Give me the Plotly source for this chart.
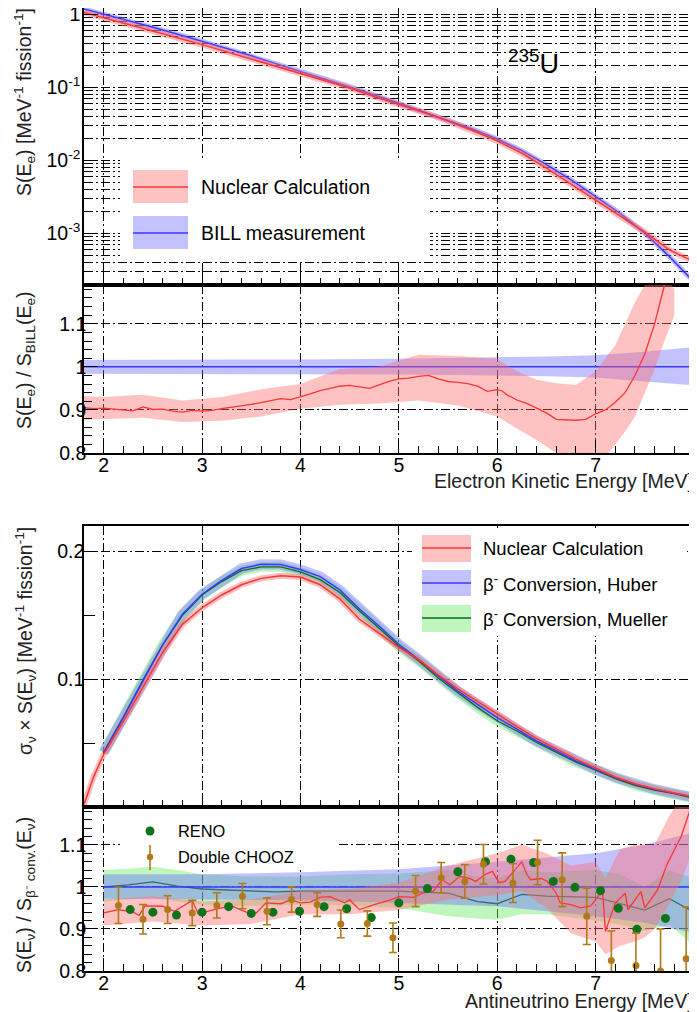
import plotly.graph_objects as go

# ---------------- data: top panel (electron spectrum) ----------------
E_TOP = [1.8, 2.0, 2.25, 2.5, 2.75, 3.0, 3.25, 3.5, 3.75, 4.0, 4.25, 4.5, 4.75, 5.0,
         5.25, 5.5, 5.75, 6.0, 6.25, 6.5, 6.75, 7.0, 7.25, 7.5, 7.75, 8.0]
BILL_TOP = [1.175, 1.0, 0.813, 0.661, 0.531, 0.427, 0.339, 0.269, 0.211, 0.166, 0.130, 0.102,
            0.0785, 0.0603, 0.0462, 0.0355, 0.0266, 0.0195, 0.0135, 0.0087, 0.00537, 0.00316,
            0.00186, 0.00100, 0.000479, 0.000214]
NUC_TOP = [1.06, 0.90, 0.733, 0.596, 0.477, 0.383, 0.305, 0.245, 0.195, 0.155, 0.123, 0.0977,
           0.0746, 0.0586, 0.0453, 0.0343, 0.0255, 0.0184, 0.01245, 0.0078, 0.0047, 0.00282,
           0.00174, 0.00103, 0.000589, 0.000407]

# ---------------- data: electron ratio panel ----------------
E_RT = [1.8, 1.9, 2.0, 2.1, 2.2, 2.3, 2.4, 2.5, 2.6, 2.7, 2.8, 2.9, 3.0, 3.1, 3.2, 3.3, 3.4, 3.5,
        3.6, 3.7, 3.8, 3.9, 4.0, 4.1, 4.2, 4.3, 4.4, 4.5, 4.6, 4.7, 4.8, 4.9, 5.0, 5.1, 5.2, 5.3,
        5.4, 5.5, 5.6, 5.7, 5.8, 5.9, 6.0, 6.05, 6.1, 6.2, 6.3, 6.4, 6.5, 6.6, 6.7, 6.8, 6.9,
        7.0, 7.1, 7.2, 7.3, 7.4, 7.5, 7.6, 7.7, 7.8]
R_RT = [0.905, 0.903, 0.904, 0.902, 0.899, 0.898, 0.907, 0.901, 0.902, 0.897, 0.895, 0.899,
        0.897, 0.899, 0.903, 0.906, 0.910, 0.913, 0.917, 0.922, 0.926, 0.924, 0.930, 0.937,
        0.945, 0.950, 0.955, 0.957, 0.953, 0.950, 0.958, 0.966, 0.972, 0.974, 0.978, 0.980,
        0.972, 0.966, 0.964, 0.961, 0.955, 0.943, 0.947, 0.944, 0.935, 0.923, 0.915, 0.904,
        0.893, 0.878, 0.877, 0.876, 0.878, 0.891, 0.900, 0.918, 0.940, 0.980, 1.030, 1.100,
        1.190, 1.300]
E_RTB = [1.8, 2.0, 2.4, 2.8, 3.2, 3.6, 4.0, 4.4, 4.8, 5.2, 5.6, 6.0, 6.2, 6.4, 6.6, 6.8, 7.0,
         7.1, 7.2, 7.3, 7.4, 7.5, 7.6, 7.7, 7.8]
R_RT_LO = [0.877, 0.878, 0.882, 0.872, 0.875, 0.885, 0.903, 0.912, 0.915, 0.922, 0.91, 0.885,
           0.857, 0.83, 0.80, 0.78, 0.78, 0.79, 0.82, 0.85, 0.885, 0.94, 0.995, 1.06, 1.12]
R_RT_HI = [0.932, 0.93, 0.935, 0.922, 0.93, 0.948, 0.96, 0.995, 1.0, 1.028, 1.025, 1.018,
           0.99, 0.97, 0.962, 0.958, 0.99, 1.02, 1.05, 1.10, 1.15, 1.19, 1.22, 1.22, 1.18]
E_BILLB = [1.8, 3.0, 4.0, 5.0, 6.0, 6.5, 7.0, 7.5, 8.0]
BILL_LO = [0.984, 0.984, 0.983, 0.982, 0.98, 0.978, 0.975, 0.966, 0.957]
BILL_HI = [1.016, 1.016, 1.017, 1.019, 1.022, 1.024, 1.027, 1.035, 1.046]

# ---------------- data: antineutrino spectrum ----------------
E_NUC = [1.8, 1.9, 2.0, 2.2, 2.4, 2.6, 2.8, 3.0, 3.2, 3.4, 3.6, 3.8, 4.0, 4.2, 4.4, 4.6, 4.8,
         5.0, 5.2, 5.4, 5.6, 5.8, 6.0, 6.2, 6.4, 6.6, 6.8, 7.0, 7.2, 7.4, 7.6, 7.8, 8.0]
NUC_SPEC = [0.002, 0.024, 0.0413, 0.067, 0.094, 0.121, 0.143, 0.156, 0.166, 0.174, 0.179, 0.181,
            0.180, 0.174, 0.163, 0.147, 0.136, 0.125, 0.1155, 0.1035, 0.0925, 0.0825, 0.0725,
            0.063, 0.0535, 0.0455, 0.0375, 0.0305, 0.0235, 0.0182, 0.0142, 0.011, 0.0078]
E_CONV = [2.0, 2.2, 2.4, 2.6, 2.8, 3.0, 3.2, 3.4, 3.6, 3.8, 4.0, 4.2, 4.4, 4.6, 4.8, 5.0, 5.2,
          5.4, 5.6, 5.8, 6.0, 6.2, 6.4, 6.6, 6.8, 7.0, 7.2, 7.4, 7.6, 7.8, 8.0]
HUBER_SPEC = [0.0426, 0.070, 0.0987, 0.127, 0.151, 0.1666, 0.1775, 0.1867, 0.190, 0.1898, 0.186,
              0.1804, 0.170, 0.155, 0.1417, 0.1274, 0.1157, 0.1026, 0.0908, 0.0804, 0.070,
              0.0609, 0.0517, 0.0439, 0.036, 0.0295, 0.023, 0.0178, 0.0139, 0.0107, 0.0074]
MUELLER_SPEC = [0.043, 0.0705, 0.0995, 0.127, 0.150, 0.166, 0.1765, 0.185, 0.188, 0.188, 0.184,
                0.178, 0.168, 0.1535, 0.140, 0.126, 0.1145, 0.101, 0.0895, 0.078, 0.0675,
                0.0595, 0.0505, 0.043, 0.0352, 0.0288, 0.0223, 0.0170, 0.0132, 0.0104, 0.0069]

# ---------------- data: antineutrino ratio panel ----------------
E_BR = [2.0, 2.15, 2.3, 2.36, 2.42, 2.6, 2.72, 2.9, 2.96, 3.15, 3.3, 3.45, 3.55, 3.65, 3.8, 3.9,
        4.0, 4.1, 4.2, 4.3, 4.45, 4.5, 4.6, 4.75, 4.9, 5.0, 5.15, 5.24, 5.35, 5.44, 5.52, 5.62,
        5.72, 5.78, 5.88, 5.95, 6.02, 6.08, 6.18, 6.25, 6.3, 6.34, 6.45, 6.51, 6.6, 6.64, 6.75,
        6.85, 6.95, 7.0, 7.07, 7.1, 7.2, 7.3, 7.33, 7.46, 7.5, 7.63, 7.73, 7.87, 7.97, 8.0]
R_BR = [0.938, 0.946, 0.94, 0.932, 0.955, 0.954, 0.942, 0.968, 0.936, 0.948, 0.955, 0.94, 0.938,
        0.962, 0.96, 0.969, 0.962, 0.964, 0.975, 0.977, 0.962, 0.969, 0.946, 0.958, 0.968,
        0.977, 0.975, 0.985, 0.99, 1.017, 1.005, 1.025, 1.02, 1.013, 1.03, 1.037, 1.01, 1.013,
        1.04, 1.06, 1.03, 1.017, 1.02, 1.013, 0.985, 0.962, 0.958, 0.95, 0.955, 0.969, 0.993,
        0.894, 0.962, 0.985, 0.946, 0.989, 0.95, 0.993, 1.056, 1.12, 1.19, 1.22]
E_BRB = [2.0, 2.5, 3.0, 3.5, 4.0, 4.5, 5.0, 5.5, 6.0, 6.25, 6.5, 6.75, 7.0, 7.1, 7.25, 7.4, 7.5,
         7.6, 7.75, 7.9, 8.0]
R_BR_LO = [0.908, 0.918, 0.908, 0.912, 0.935, 0.935, 0.945, 0.97, 0.98, 0.99, 0.95, 0.89, 0.87,
           0.84, 0.86, 0.87, 0.88, 0.9, 0.96, 1.03, 1.1]
R_BR_HI = [0.97, 0.978, 0.965, 0.97, 0.99, 0.995, 1.01, 1.05, 1.08, 1.1, 1.08, 1.05, 1.06, 1.02,
           1.09, 1.1, 1.1, 1.1, 1.17, 1.22, 1.3]
E_HB = [2.0, 3.0, 4.0, 5.0, 6.0, 7.0, 7.5, 8.0]
HUBER_LO = [0.972, 0.97, 0.968, 0.962, 0.954, 0.93, 0.915, 0.89]
HUBER_HI = [1.03, 1.03, 1.035, 1.042, 1.06, 1.08, 1.1, 1.13]
E_MB = [2.0, 2.25, 2.5, 2.75, 3.0, 3.25, 3.5, 3.75, 4.0, 4.5, 5.0, 5.5, 5.8, 6.0, 6.25, 6.5, 7.0,
        7.25, 7.5, 7.75, 8.0]
MUELLER_R = [1.0, 1.005, 1.012, 1.002, 0.995, 0.993, 0.99, 0.988, 0.99, 0.99, 0.99, 0.985, 0.965,
             0.96, 0.982, 0.978, 0.975, 0.96, 0.945, 0.972, 0.94]
MUELLER_LO = [0.965, 0.97, 0.975, 0.965, 0.958, 0.955, 0.955, 0.955, 0.958, 0.955, 0.95, 0.93,
              0.925, 0.922, 0.935, 0.935, 0.92, 0.91, 0.895, 0.91, 0.86]
MUELLER_HI = [1.04, 1.043, 1.048, 1.04, 1.03, 1.028, 1.025, 1.025, 1.025, 1.03, 1.032, 1.04,
              1.025, 1.02, 1.04, 1.035, 1.04, 1.03, 1.0, 1.04, 1.02]
E_UNITY = [2.0, 8.0]
UNITY = [1.0, 1.0]
E_UNITY_E = [1.8, 8.0]

RENO_E = [2.27, 2.5, 2.74, 3.0, 3.27, 3.5, 3.72, 3.99, 4.24, 4.47, 4.72, 5.0, 5.29, 5.6, 5.88,
          6.14, 6.37, 6.57, 6.79, 7.05, 7.23, 7.42, 7.71]
RENO_R = [0.946, 0.94, 0.933, 0.94, 0.953, 0.937, 0.94, 0.942, 0.953, 0.948, 0.927, 0.962,
          0.996, 1.036, 1.06, 1.066, 1.058, 1.013, 0.999, 0.991, 0.949, 0.899, 0.925]
DC_E = [2.15, 2.4, 2.65, 2.9, 3.15, 3.41, 3.66, 3.91, 4.17, 4.41, 4.68, 4.94, 5.17, 5.43, 5.67,
        5.86, 6.16, 6.41, 6.66, 6.91, 7.16, 7.41, 7.66, 7.92]
DC_R = [0.956, 0.923, 0.946, 0.938, 0.956, 0.978, 0.942, 0.97, 0.958, 0.912, 0.913, 0.879, 0.99,
        1.022, 1.013, 1.054, 1.009, 1.058, 1.017, 0.93, 0.825, 0.813, 0.80, 0.829]
DC_ERR = [0.043, 0.035, 0.033, 0.03, 0.03, 0.03, 0.032, 0.03, 0.028, 0.033, 0.03, 0.035, 0.037,
          0.036, 0.04, 0.047, 0.046, 0.053, 0.064, 0.067, 0.07, 0.077, 0.1, 0.123]

# ---------------- style ----------------
FONT = "Liberation Sans, Arial, Helvetica, sans-serif"
RED_LINE = "#ff3535"
RED_FILL = "rgba(255,110,110,0.42)"
BLUE_LINE = "#3838ff"
BLUE_FILL = "rgba(110,110,255,0.42)"
GREEN_LINE = "#0a6e0a"
GREEN_FILL = "rgba(110,235,110,0.45)"
RENO_COL = "#0b741b"
DC_COL = "#b07a1a"
GRIDDASH = "9px,3px,2px,3px"
TICK_SIZE = 19.5

# page body has an 8px default margin: figure is sized to the remaining window
FIG_W, FIG_H = 689, 1004
M_L, M_R, M_T, M_B = 76, 3, 0, 41
PLOT_H = FIG_H - M_T - M_B


def py(y_abs):
    """absolute window pixel row -> paper y fraction"""
    return (FIG_H + 8 - M_B - y_abs) / PLOT_H


def px(x_abs):
    return (x_abs - 8 - M_L) / (FIG_W - M_L - M_R)


fig = go.Figure()


def band(x, lo, hi, color, xa, ya):
    fig.add_trace(go.Scatter(x=list(x) + list(x)[::-1], y=list(hi) + list(lo)[::-1],
                             fill="toself", fillcolor=color, mode="lines",
                             line=dict(width=0), hoverinfo="skip", xaxis=xa, yaxis=ya))


def line(x, y, color, width, xa, ya):
    fig.add_trace(go.Scatter(x=x, y=y, mode="lines", line=dict(color=color, width=width),
                             xaxis=xa, yaxis=ya))


# top panel
line(E_TOP, BILL_TOP, "rgba(110,110,255,0.45)", 5, "x", "y")
line(E_TOP, BILL_TOP, BLUE_LINE, 1.5, "x", "y")
line(E_TOP, NUC_TOP, "rgba(255,110,110,0.45)", 6, "x", "y")
line(E_TOP, NUC_TOP, RED_LINE, 1.5, "x", "y")

# electron ratio
band(E_BILLB, BILL_LO, BILL_HI, BLUE_FILL, "x2", "y2")
line(E_UNITY_E, UNITY, BLUE_LINE, 1.5, "x2", "y2")
band(E_RTB, R_RT_LO, R_RT_HI, RED_FILL, "x2", "y2")
line(E_RT, R_RT, RED_LINE, 1.3, "x2", "y2")

# antineutrino spectrum
line(E_CONV, MUELLER_SPEC, "rgba(110,235,110,0.45)", 10, "x3", "y3")
line(E_CONV, HUBER_SPEC, "rgba(110,110,255,0.42)", 10, "x3", "y3")
line(E_NUC, NUC_SPEC, "rgba(255,110,110,0.45)", 6, "x3", "y3")
line(E_CONV, MUELLER_SPEC, GREEN_LINE, 1.3, "x3", "y3")
line(E_CONV, HUBER_SPEC, BLUE_LINE, 1.5, "x3", "y3")
line(E_NUC, NUC_SPEC, RED_LINE, 1.5, "x3", "y3")

# antineutrino ratio
band(E_MB, MUELLER_LO, MUELLER_HI, GREEN_FILL, "x4", "y4")
line(E_MB, MUELLER_R, GREEN_LINE, 1.3, "x4", "y4")
band(E_HB, HUBER_LO, HUBER_HI, BLUE_FILL, "x4", "y4")
line(E_UNITY, UNITY, BLUE_LINE, 1.5, "x4", "y4")
band(E_BRB, R_BR_LO, R_BR_HI, RED_FILL, "x4", "y4")
line(E_BR, R_BR, RED_LINE, 1.3, "x4", "y4")
fig.add_trace(go.Scatter(x=RENO_E, y=RENO_R, mode="markers",
                         marker=dict(color=RENO_COL, size=9, line=dict(width=0)),
                         xaxis="x4", yaxis="y4"))
fig.add_trace(go.Scatter(x=DC_E, y=DC_R, mode="markers",
                         marker=dict(color=DC_COL, size=7, line=dict(width=0)),
                         error_y=dict(type="data", array=DC_ERR, color=DC_COL, thickness=1.6,
                                      width=4),
                         xaxis="x4", yaxis="y4"))

# ---------------- axes ----------------
D_TOP = [py(285), 1.0]
D_RT = [py(453), py(285)]
D_SP = [py(807), py(526)]
D_BR = [0.0, py(807)]


def xaxis(anchor, labels):
    return dict(domain=[0, 1], anchor=anchor, range=[1.8, 8.0], tickmode="linear", tick0=0,
                dtick=1, ticks="inside", ticklen=13, tickwidth=1.2, tickcolor="black",
                showline=True, linecolor="black", linewidth=1.5, mirror=True,
                showgrid=True, gridcolor="black", gridwidth=1, griddash=GRIDDASH,
                zeroline=False, showticklabels=labels, ticklabelstandoff=-6,
                ticklabeloverflow="allow",
                tickfont=dict(size=TICK_SIZE, color="black", family=FONT),
                minor=dict(tickmode="linear", tick0=0, dtick=0.2, ticks="inside", ticklen=7,
                           tickwidth=1.2, tickcolor="black", showgrid=False))


def yaxis_common(anchor, domain, standoff=-8):
    return dict(domain=domain, anchor=anchor, ticks="inside", ticklen=14, tickwidth=1.2,
                tickcolor="black", showline=True, linecolor="black", linewidth=1.5,
                mirror=True, showgrid=True, gridcolor="black", gridwidth=1,
                griddash=GRIDDASH, zeroline=False, ticklabelstandoff=standoff,
                ticklabeloverflow="allow",
                tickfont=dict(size=TICK_SIZE, color="black", family=FONT))


LOG_TICKS = [0.001, 0.01, 0.1, 1]
LOG_LABELS = ["10<sup>-3</sup>", "10<sup>-2</sup>", "10<sup>-1</sup>", "1"]
LOG_MINOR = [m * 10.0 ** k for k in range(-4, 1) for m in range(2, 10)]
RATIO_TICKS = [0.8, 0.9, 1.0, 1.1]
RATIO_LABELS = ["0.8", "0.9", "1", "1.1"]
SPEC_TICKS = [0.1, 0.2]
SPEC_LABELS = ["0.1", "0.2"]

y1 = yaxis_common("x", D_TOP, standoff=-2)
y1.update(type="log", range=[-3.71, 0.085], tickmode="array", tickvals=LOG_TICKS,
          ticktext=LOG_LABELS,
          minor=dict(tickmode="array", tickvals=LOG_MINOR, ticks="inside", ticklen=7,
                     tickcolor="black", showgrid=True, gridcolor="black", gridwidth=1,
                     griddash=GRIDDASH))
y2 = yaxis_common("x2", D_RT)
y2.update(range=[0.8, 1.19], tickmode="array", tickvals=RATIO_TICKS, ticktext=RATIO_LABELS,
          minor=dict(tickmode="linear", tick0=0.8, dtick=0.02, ticks="inside", ticklen=8,
                     tickwidth=1.2, tickcolor="black", showgrid=False))
y3 = yaxis_common("x3", D_SP, standoff=-6)
y3.update(range=[0.0, 0.22], tickmode="array", tickvals=SPEC_TICKS, ticktext=SPEC_LABELS,
          minor=dict(tickmode="array", tickvals=[0.05, 0.15], ticks="inside", ticklen=11,
                     tickwidth=1.2, tickcolor="black", showgrid=False))
y4 = yaxis_common("x4", D_BR)
y4.update(range=[0.8, 1.19], tickmode="array", tickvals=RATIO_TICKS, ticktext=RATIO_LABELS,
          minor=dict(tickmode="linear", tick0=0.8, dtick=0.02, ticks="inside", ticklen=8,
                     tickwidth=1.2, tickcolor="black", showgrid=False))

fig.update_layout(
    width=FIG_W, height=FIG_H,
    margin=dict(l=M_L, r=M_R, t=M_T, b=M_B, autoexpand=False),
    paper_bgcolor="white", plot_bgcolor="white",
    showlegend=False,
    font=dict(family=FONT, color="black", size=TICK_SIZE),
    xaxis=xaxis("y", False), xaxis2=xaxis("y2", True),
    xaxis3=xaxis("y3", False), xaxis4=xaxis("y4", True),
    yaxis=y1, yaxis2=y2, yaxis3=y3, yaxis4=y4,
)

# ---------------- legends (drawn as shapes + text) ----------------
shapes = []
annos = []


def rect(x0, y0, x1, y1, fill):
    shapes.append(dict(type="rect", xref="paper", yref="paper", x0=px(x0), x1=px(x1),
                       y0=py(y0), y1=py(y1), fillcolor=fill, line=dict(width=0),
                       layer="above"))


def hline(x0, x1, y, color, w=1.5):
    shapes.append(dict(type="line", xref="paper", yref="paper", x0=px(x0), x1=px(x1),
                       y0=py(y), y1=py(y), line=dict(color=color, width=w), layer="above"))


def text(x, y, s, size, xanchor="left", angle=0, color="black"):
    annos.append(dict(x=px(x), y=py(y), xref="paper", yref="paper", text=s, showarrow=False,
                      xanchor=xanchor, yanchor="middle", textangle=angle,
                      font=dict(family=FONT, size=size, color=color)))


# top legend
rect(120, 262, 430, 160, "white")
rect(133, 203, 188, 170, RED_FILL)
hline(133, 188, 187, RED_LINE)
text(199, 187, "Nuclear Calculation", 19.5)
rect(133, 249, 188, 216, BLUE_FILL)
hline(133, 188, 233, BLUE_LINE)
text(199, 233, "BILL measurement", 19.5)

# spectrum legend
rect(412, 636, 687, 528, "white")
for yc, y0, y1_, fill, col, lab in [
    (548, 562, 535, RED_FILL, RED_LINE, "Nuclear Calculation"),
    (583, 596, 570, BLUE_FILL, BLUE_LINE, "β<sup>-</sup> Conversion, Huber"),
    (618, 632, 605, GREEN_FILL, GREEN_LINE, "β<sup>-</sup> Conversion, Mueller"),
]:
    rect(422, y0, 471, y1_, fill)
    hline(422, 471, yc, col)
    text(481, yc, lab, 18.5)

# data legend in the ratio panel
rect(120, 867, 337, 809, "white")
shapes.append(dict(type="circle", xref="paper", yref="paper", x0=px(145.5), x1=px(154.5),
                   y0=py(835.5), y1=py(826.5), fillcolor=RENO_COL, line=dict(width=0),
                   layer="above"))
text(176, 831, "RENO", 16.4)
shapes.append(dict(type="line", xref="paper", yref="paper", x0=px(150), x1=px(150),
                   y0=py(870), y1=py(845), line=dict(color=DC_COL, width=1.6), layer="above"))
shapes.append(dict(type="circle", xref="paper", yref="paper", x0=px(146.8), x1=px(153.2),
                   y0=py(860.2), y1=py(853.8), fillcolor=DC_COL, line=dict(width=0),
                   layer="above"))
text(176, 857, "Double CHOOZ", 16.4)

# isotope label
text(533, 62, "<sup>235</sup>U", 27, xanchor="center")

# axis titles
text(25, 102, "S(E<sub>e</sub>) [MeV<sup>-1</sup> fission<sup>-1</sup>]", 19.5,
     xanchor="center", angle=-90, color="#222")
text(25, 360, "S(E<sub>e</sub>) / S<sub>BILL</sub>(E<sub>e</sub>)", 19.5,
     xanchor="center", angle=-90, color="#222")
text(25, 641, "σ<sub>ν</sub> × S(E<sub>ν</sub>) [MeV<sup>-1</sup> fission<sup>-1</sup>]", 19.5,
     xanchor="center", angle=-90, color="#222")
text(25, 895, "S(E<sub>ν</sub>) / S<sub>β⁻ conv.</sub>(E<sub>ν</sub>)", 19.5,
     xanchor="center", angle=-90, color="#222")
text(695, 481, "Electron Kinetic Energy [MeV]", 19.5, xanchor="right", color="#222")
text(695, 1001, "Antineutrino Energy [MeV]", 19.5, xanchor="right", color="#222")

fig.update_layout(shapes=shapes, annotations=annos)
fig.write_html("out.html")
